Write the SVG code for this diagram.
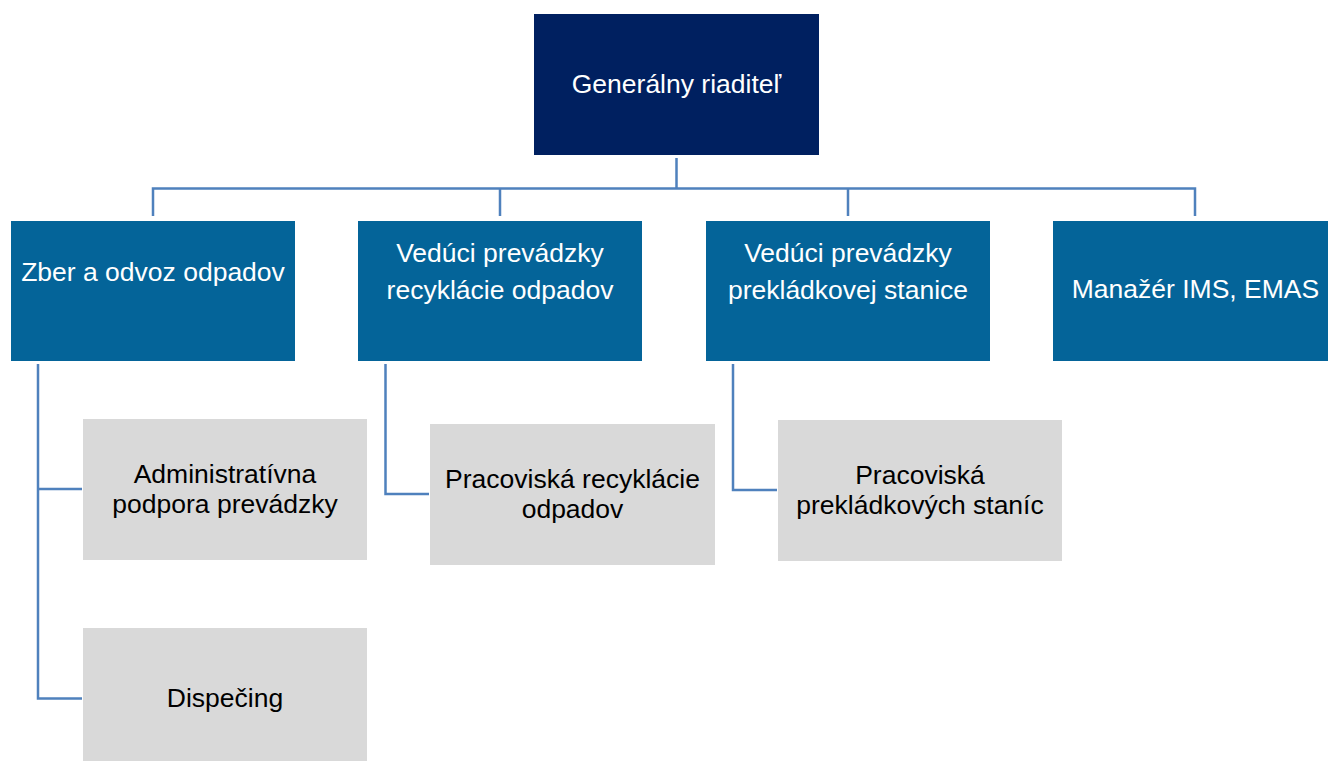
<svg xmlns="http://www.w3.org/2000/svg" width="1328" height="761" viewBox="0 0 1328 761">
<style>
  .navy { fill: #002060; }
  .blue { fill: #046499; }
  .gray { fill: #D9D9D9; }
  text { font-family: "Liberation Sans", Arial, sans-serif; font-size: 26.5px; text-anchor: middle; }
  .w { fill: #FFFFFF; }
  .k { fill: #000000; }
  .conn { fill: none; stroke: #4F81BD; stroke-width: 2.5; }
</style>
<rect width="1328" height="761" fill="#FFFFFF"/>
<g id="connectors">
  <path class="conn" d="M676.5 158 V188.5 M153 216 V188.5 H1195 V216 M500 188.5 V216 M848 188.5 V216"/>
  <path class="conn" d="M38 364 V698.5 H82 M38 489 H82"/>
  <path class="conn" d="M385.5 364 V494 H429"/>
  <path class="conn" d="M733 364 V490 H777"/>
</g>
<g id="n-gr">
  <rect class="navy" x="534" y="14" width="285" height="141"/>
  <text class="w" x="676.5" y="93">Generálny riaditeľ</text>
</g>
<g id="n-zber">
  <rect class="blue" x="11" y="221" width="284" height="140"/>
  <text class="w" x="153" y="281">Zber a odvoz odpadov</text>
</g>
<g id="n-recyk">
  <rect class="blue" x="358" y="221" width="284" height="140"/>
  <text class="w" x="500" y="262">Vedúci prevádzky</text>
  <text class="w" x="500" y="299">recyklácie odpadov</text>
</g>
<g id="n-prekl">
  <rect class="blue" x="706" y="221" width="284" height="140"/>
  <text class="w" x="848" y="262">Vedúci prevádzky</text>
  <text class="w" x="848" y="299">prekládkovej stanice</text>
</g>
<g id="n-ims">
  <rect class="blue" x="1053" y="221" width="284" height="140"/>
  <text class="w" x="1195.5" y="298">Manažér IMS, EMAS</text>
</g>
<g id="n-admin">
  <rect class="gray" x="83" y="419" width="284" height="141"/>
  <text class="k" x="225" y="482.5">Administratívna</text>
  <text class="k" x="225" y="512.5">podpora prevádzky</text>
</g>
<g id="n-disp">
  <rect class="gray" x="83" y="628" width="284" height="141"/>
  <text class="k" x="225" y="707">Dispečing</text>
</g>
<g id="n-prac-recyk">
  <rect class="gray" x="430" y="424" width="285" height="141"/>
  <text class="k" x="572.5" y="488">Pracoviská recyklácie</text>
  <text class="k" x="572.5" y="518">odpadov</text>
</g>
<g id="n-prac-prekl">
  <rect class="gray" x="778" y="420" width="284" height="141"/>
  <text class="k" x="920" y="483.5">Pracoviská</text>
  <text class="k" x="920" y="513.5">prekládkových staníc</text>
</g>
</svg>
